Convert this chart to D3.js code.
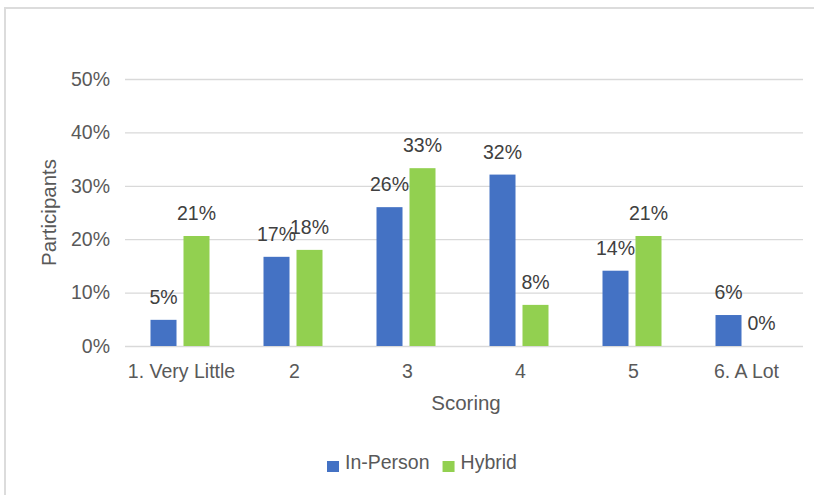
<!DOCTYPE html>
<html>
<head>
<meta charset="utf-8">
<script src="https://cdn.jsdelivr.net/npm/d3@7"></script>
<style>
  body { margin: 0; background: #fff; }
  text { font-family: "Liberation Sans", Arial, sans-serif; }
</style>
</head>
<body>
<svg width="814" height="495"></svg>
<script>
// chart data
const categories = ["1. Very Little", "2", "3", "4", "5", "6. A Lot"];
const series = ["In-Person", "Hybrid"];
const inPerson = [4.9, 16.7, 26.0, 32.1, 14.1, 5.8];
const hybrid = [20.6, 18.0, 33.3, 7.7, 20.6, 0];
const inPersonLabels = ["5%", "17%", "26%", "32%", "14%", "6%"];
const hybridLabels = ["21%", "18%", "33%", "8%", "21%", "0%"];
const yTicks = [0, 10, 20, 30, 40, 50];

const colors = { "In-Person": "#4472C4", "Hybrid": "#92D050" };

const svg = d3.select("svg");
const plotL = 125, plotR = 803, plotT = 79, plotB = 346;

// outer frame (top and left only visible)
svg.append("path")
   .attr("d", "M5,495 L5,8 L814,8")
   .attr("fill", "none")
   .attr("stroke", "#dcdcdc")
   .attr("stroke-width", 2);

const y = d3.scaleLinear().domain([0, 50]).range([plotB, plotT]);
const x0 = d3.scaleBand().domain(categories).range([plotL, plotR]);
const x1 = d3.scaleBand().domain(series)
             .range([x0.bandwidth() / 2 - 31, x0.bandwidth() / 2 + 28])
             .paddingInner(0.212);

// gridlines + y tick labels
const yAxis = d3.axisLeft(y).tickValues(yTicks).tickSize(-(plotR - plotL))
                .tickFormat(d => d + "%").tickPadding(15);
const yg = svg.append("g").attr("transform", `translate(${plotL},0)`).call(yAxis);
yg.select(".domain").remove();
yg.selectAll(".tick line").attr("stroke", "#d9d9d9").attr("stroke-width", 1.3);
yg.selectAll(".tick text")
  .attr("fill", "#595959")
  .style("font-size", "19.5px");
yg.attr("font-family", null).attr("font-size", null);

// x tick labels
const xAxis = d3.axisBottom(x0).tickSize(0).tickPadding(0);
const xg = svg.append("g").attr("transform", `translate(0,${plotB})`).call(xAxis);
xg.select(".domain").remove();
xg.selectAll(".tick text")
  .attr("fill", "#595959")
  .attr("dy", null)
  .attr("y", 32)
  .style("font-size", "19.5px");
xg.attr("font-family", null).attr("font-size", null);

// bars
const rows = categories.map((c, i) => ({
  cat: c,
  vals: [
    { s: "In-Person", v: inPerson[i], label: inPersonLabels[i] },
    { s: "Hybrid", v: hybrid[i], label: hybridLabels[i] }
  ]
}));

const groups = svg.append("g").selectAll("g")
  .data(rows)
  .enter()
  .append("g")
    .attr("transform", d => `translate(${x0(d.cat)},0)`);

groups.selectAll("rect")
  .data(d => d.vals)
  .enter()
  .append("rect")
    .attr("x", d => x1(d.s))
    .attr("width", x1.bandwidth())
    .attr("y", d => y(d.v))
    .attr("height", d => plotB - y(d.v))
    .attr("fill", d => colors[d.s]);

groups.selectAll("text")
  .data(d => d.vals)
  .enter()
  .append("text")
    .attr("x", d => x1(d.s) + x1.bandwidth() / 2)
    .attr("y", d => y(d.v) - 16)
    .attr("text-anchor", "middle")
    .attr("fill", "#404040")
    .style("font-size", "19.5px")
    .text(d => d.label);

// axis titles
svg.append("text")
   .attr("transform", `translate(56,${(plotT + plotB) / 2}) rotate(-90)`)
   .attr("text-anchor", "middle")
   .attr("fill", "#595959")
   .style("font-size", "20.5px")
   .text("Participants");

svg.append("text")
   .attr("x", (plotL + plotR) / 2 + 2)
   .attr("y", 410)
   .attr("text-anchor", "middle")
   .attr("fill", "#595959")
   .style("font-size", "20.5px")
   .text("Scoring");

// legend
const legend = svg.append("g").attr("transform", "translate(327,469)");
let lx = 0;
series.forEach(s => {
  const item = legend.append("g").attr("transform", `translate(${lx},0)`);
  item.append("rect")
      .attr("x", 0).attr("y", -8)
      .attr("width", 12).attr("height", 11)
      .attr("fill", colors[s]);
  const t = item.append("text")
      .attr("x", 18)
      .attr("fill", "#595959")
      .style("font-size", "19.5px")
      .text(s);
  lx += 18 + t.node().getComputedTextLength() + 13;
});
</script>
</body>
</html>
